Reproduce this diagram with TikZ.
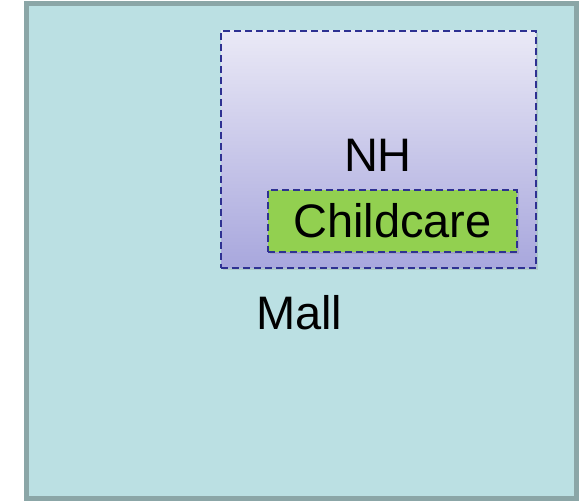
\documentclass[tikz,border=0pt]{standalone}
\usepackage{tikz}
\usepackage{xcolor}
\usepackage{fontspec}
\setmainfont{Liberation Sans}
\usetikzlibrary{positioning, shadows}
\definecolor{mallfill}{HTML}{BBE0E3}
\definecolor{mallline}{HTML}{8BA6A7}
\definecolor{nhtop}{HTML}{EAE9F6}
\definecolor{nhbottom}{HTML}{A8A7DD}
\definecolor{boxline}{HTML}{2E3192}
\definecolor{carefill}{HTML}{92D050}
\tikzstyle{area} = [rectangle, draw=mallline, fill=mallfill, line width=5pt, inner sep=0pt]
\tikzstyle{zone} = [rectangle, draw=boxline, line width=1.3pt, dash pattern=on 7pt off 4pt, inner sep=0pt,
  drop shadow={opacity=0.25, shadow xshift=2pt, shadow yshift=-2pt}]
\tikzstyle{lbl} = [font=\fontsize{47}{56}\selectfont, inner sep=0pt]

\begin{document}
\begin{tikzpicture}[x=1pt, y=1pt]
    \useasboundingbox (0,0) rectangle (580,502);
    \node (mall) [area, minimum width=550pt, minimum height=495pt] at (301,250.5) {};
    \node (nh) [zone, top color=nhtop, bottom color=nhbottom, minimum width=315pt, minimum height=237pt] at (378.5,352.5) {};
    \node (childcare) [zone, fill=carefill, minimum width=249pt, minimum height=62pt] at (392.5,281) {};
    \node (nhtext) [lbl] at (378,347) {NH};
    \node (caretext) [lbl] at (childcare.center) {Childcare};
    \node (malltext) [lbl, anchor=west] at (256,189) {Mall};
\end{tikzpicture}
\end{document}
